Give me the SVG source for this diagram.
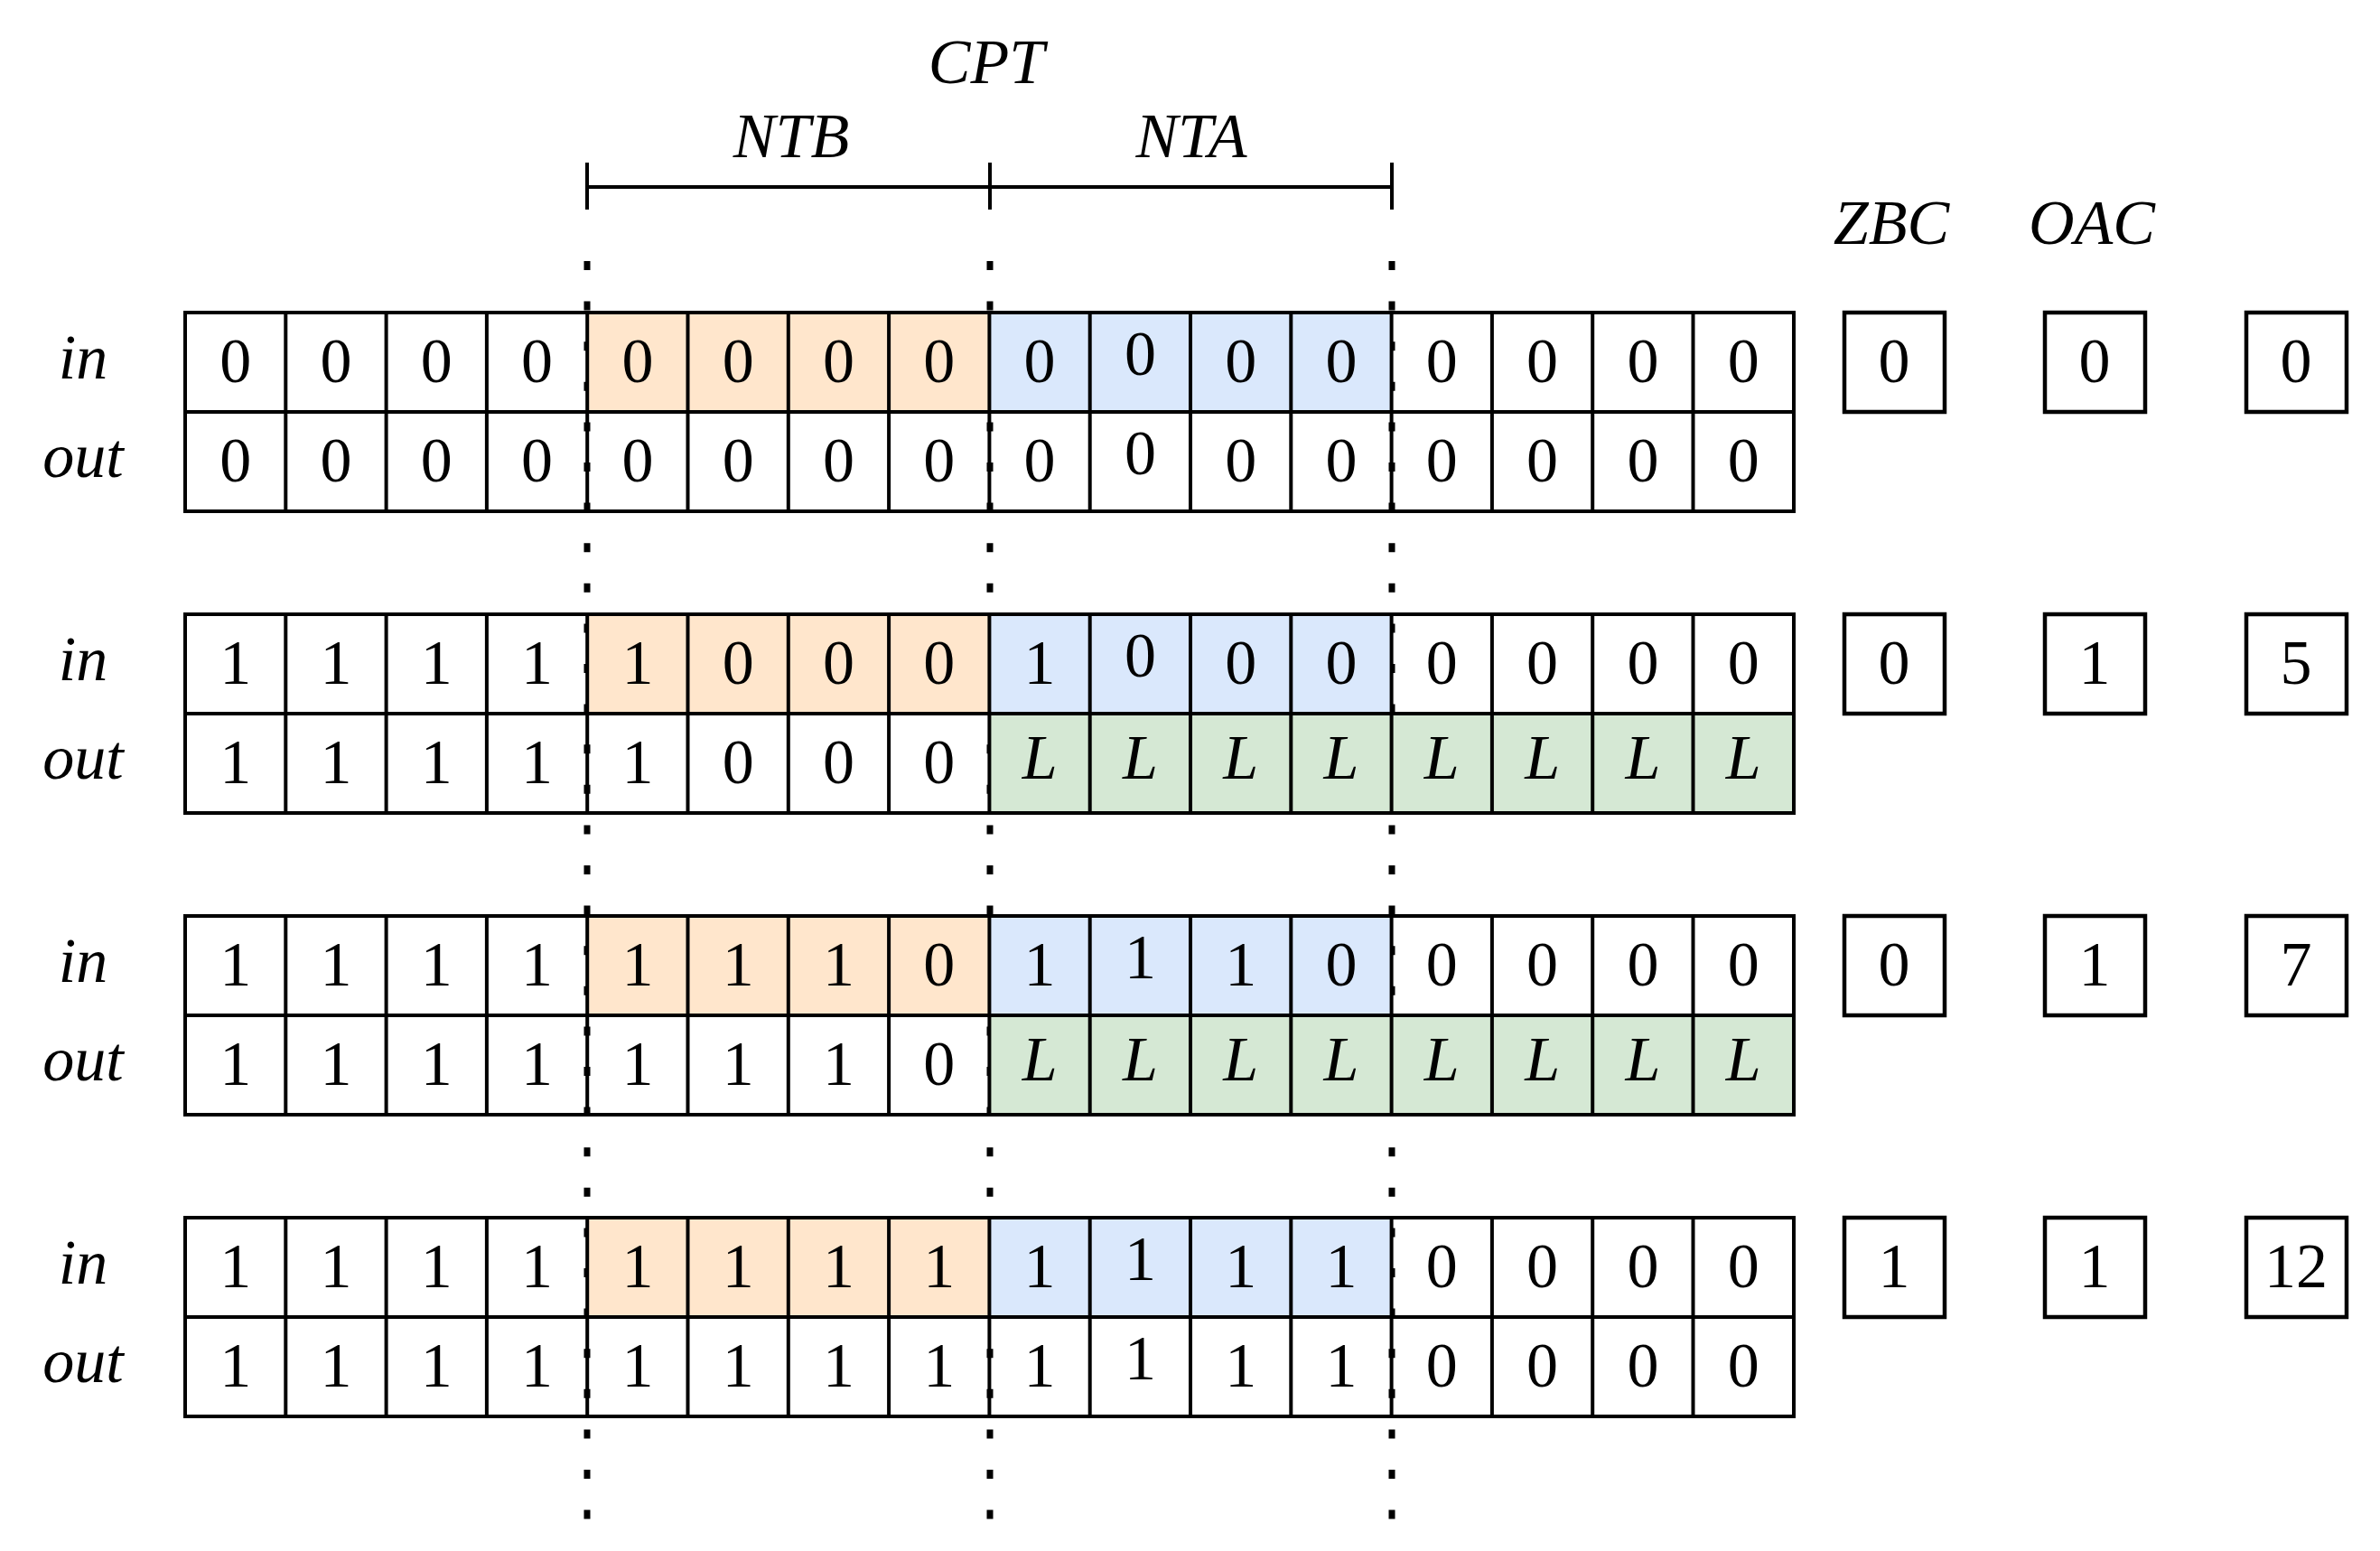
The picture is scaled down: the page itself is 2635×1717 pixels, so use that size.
<svg xmlns="http://www.w3.org/2000/svg" width="2635" height="1717" viewBox="0 0 2635 1717">
<style>
text{font-family:"Liberation Serif","DejaVu Serif",serif;font-size:70px;text-anchor:middle;fill:#000}
.i{font-style:italic}
.o{fill:#FFE6CC}.b{fill:#DAE8FC}.g{fill:#D5E8D4}
.grid{fill:none;stroke:#000;stroke-width:4}
.box{fill:#fff;stroke:#000;stroke-width:4.5}
.dot{stroke:#000;stroke-width:7;stroke-dasharray:10 34.6}
</style>
<rect width="2635" height="1717" fill="#fff"/>
<g id="connectors">
<line class="dot" x1="650" y1="289" x2="650" y2="1690"/>
<line class="dot" x1="1096" y1="289" x2="1096" y2="1690"/>
<line class="dot" x1="1541" y1="289" x2="1541" y2="1690"/>
<path d="M650 180V232M1096 180V232M1541 180V232M650 207H1541" stroke="#000" stroke-width="4" fill="none"/>
</g>
<g id="header">
<text class="i" x="1092" y="92">CPT</text>
<text class="i" x="876" y="174">NTB</text>
<text class="i" x="1319" y="174">NTA</text>
<text class="i" x="2094" y="270">ZBC</text>
<text class="i" x="2316" y="270">OAC</text>
</g>
<defs>
<g id="frame">
<rect x="650" y="0" width="445" height="110" class="o"/>
<rect x="1096" y="0" width="445" height="110" class="b"/>
</g>
<g id="lines">
<rect class="grid" x="205" y="0" width="1781" height="220" stroke-width="5"/>
<path class="grid" d="M205 110H1986M316.3 0V220M427.6 0V220M538.9 0V220M650.2 0V220M761.5 0V220M872.8 0V220M984.1 0V220M1095.4 0V220M1206.7 0V220M1318 0V220M1429.3 0V220M1540.6 0V220M1651.9 0V220M1763.2 0V220M1874.5 0V220"/>
<text class="i" x="92" y="73">in</text>
<text class="i" x="92" y="182">out</text>
<rect class="box" x="2042" y="0" width="111" height="110"/>
<rect class="box" x="2264" y="0" width="111" height="110"/>
<rect class="box" x="2487" y="0" width="111" height="110"/>
</g>
</defs>
<g id="block1">
<use href="#frame" y="346"/><use href="#lines" y="346"/>
<g transform="translate(0,346)">
<text y="77"><tspan x="260.7">0</tspan><tspan x="372">0</tspan><tspan x="483.3">0</tspan><tspan x="594.6">0</tspan><tspan x="705.9">0</tspan><tspan x="817.2">0</tspan><tspan x="928.5">0</tspan><tspan x="1039.8">0</tspan><tspan x="1151.1">0</tspan><tspan x="1262.4" dy="-8">0</tspan><tspan x="1373.7" dy="8">0</tspan><tspan x="1485">0</tspan><tspan x="1596.3">0</tspan><tspan x="1707.6">0</tspan><tspan x="1818.9">0</tspan><tspan x="1930.2">0</tspan></text>
<text y="187"><tspan x="260.7">0</tspan><tspan x="372">0</tspan><tspan x="483.3">0</tspan><tspan x="594.6">0</tspan><tspan x="705.9">0</tspan><tspan x="817.2">0</tspan><tspan x="928.5">0</tspan><tspan x="1039.8">0</tspan><tspan x="1151.1">0</tspan><tspan x="1262.4" dy="-8">0</tspan><tspan x="1373.7" dy="8">0</tspan><tspan x="1485">0</tspan><tspan x="1596.3">0</tspan><tspan x="1707.6">0</tspan><tspan x="1818.9">0</tspan><tspan x="1930.2">0</tspan></text>
<text x="2097" y="77">0</text><text x="2319" y="77">0</text><text x="2542" y="77">0</text>
</g>
</g>
<g id="block2">
<use href="#frame" y="680"/><rect x="1096" y="790" width="890" height="110" class="g"/><use href="#lines" y="680"/>
<g transform="translate(0,680)">
<text y="77"><tspan x="260.7">1</tspan><tspan x="372">1</tspan><tspan x="483.3">1</tspan><tspan x="594.6">1</tspan><tspan x="705.9">1</tspan><tspan x="817.2">0</tspan><tspan x="928.5">0</tspan><tspan x="1039.8">0</tspan><tspan x="1151.1">1</tspan><tspan x="1262.4" dy="-8">0</tspan><tspan x="1373.7" dy="8">0</tspan><tspan x="1485">0</tspan><tspan x="1596.3">0</tspan><tspan x="1707.6">0</tspan><tspan x="1818.9">0</tspan><tspan x="1930.2">0</tspan></text>
<text y="187"><tspan x="260.7">1</tspan><tspan x="372">1</tspan><tspan x="483.3">1</tspan><tspan x="594.6">1</tspan><tspan x="705.9">1</tspan><tspan x="817.2">0</tspan><tspan x="928.5">0</tspan><tspan x="1039.8">0</tspan></text>
<text class="i" y="182"><tspan x="1151.1">L</tspan><tspan x="1262.4">L</tspan><tspan x="1373.7">L</tspan><tspan x="1485">L</tspan><tspan x="1596.3">L</tspan><tspan x="1707.6">L</tspan><tspan x="1818.9">L</tspan><tspan x="1930.2">L</tspan></text>
<text x="2097" y="77">0</text><text x="2319" y="77">1</text><text x="2542" y="77">5</text>
</g>
</g>
<g id="block3">
<use href="#frame" y="1014"/><rect x="1096" y="1124" width="890" height="110" class="g"/><use href="#lines" y="1014"/>
<g transform="translate(0,1014)">
<text y="77"><tspan x="260.7">1</tspan><tspan x="372">1</tspan><tspan x="483.3">1</tspan><tspan x="594.6">1</tspan><tspan x="705.9">1</tspan><tspan x="817.2">1</tspan><tspan x="928.5">1</tspan><tspan x="1039.8">0</tspan><tspan x="1151.1">1</tspan><tspan x="1262.4" dy="-8">1</tspan><tspan x="1373.7" dy="8">1</tspan><tspan x="1485">0</tspan><tspan x="1596.3">0</tspan><tspan x="1707.6">0</tspan><tspan x="1818.9">0</tspan><tspan x="1930.2">0</tspan></text>
<text y="187"><tspan x="260.7">1</tspan><tspan x="372">1</tspan><tspan x="483.3">1</tspan><tspan x="594.6">1</tspan><tspan x="705.9">1</tspan><tspan x="817.2">1</tspan><tspan x="928.5">1</tspan><tspan x="1039.8">0</tspan></text>
<text class="i" y="182"><tspan x="1151.1">L</tspan><tspan x="1262.4">L</tspan><tspan x="1373.7">L</tspan><tspan x="1485">L</tspan><tspan x="1596.3">L</tspan><tspan x="1707.6">L</tspan><tspan x="1818.9">L</tspan><tspan x="1930.2">L</tspan></text>
<text x="2097" y="77">0</text><text x="2319" y="77">1</text><text x="2542" y="77">7</text>
</g>
</g>
<g id="block4">
<use href="#frame" y="1348"/><use href="#lines" y="1348"/>
<g transform="translate(0,1348)">
<text y="77"><tspan x="260.7">1</tspan><tspan x="372">1</tspan><tspan x="483.3">1</tspan><tspan x="594.6">1</tspan><tspan x="705.9">1</tspan><tspan x="817.2">1</tspan><tspan x="928.5">1</tspan><tspan x="1039.8">1</tspan><tspan x="1151.1">1</tspan><tspan x="1262.4" dy="-8">1</tspan><tspan x="1373.7" dy="8">1</tspan><tspan x="1485">1</tspan><tspan x="1596.3">0</tspan><tspan x="1707.6">0</tspan><tspan x="1818.9">0</tspan><tspan x="1930.2">0</tspan></text>
<text y="187"><tspan x="260.7">1</tspan><tspan x="372">1</tspan><tspan x="483.3">1</tspan><tspan x="594.6">1</tspan><tspan x="705.9">1</tspan><tspan x="817.2">1</tspan><tspan x="928.5">1</tspan><tspan x="1039.8">1</tspan><tspan x="1151.1">1</tspan><tspan x="1262.4" dy="-8">1</tspan><tspan x="1373.7" dy="8">1</tspan><tspan x="1485">1</tspan><tspan x="1596.3">0</tspan><tspan x="1707.6">0</tspan><tspan x="1818.9">0</tspan><tspan x="1930.2">0</tspan></text>
<text x="2097" y="77">1</text><text x="2319" y="77">1</text><text x="2542" y="77">12</text>
</g>
</g>
</svg>
